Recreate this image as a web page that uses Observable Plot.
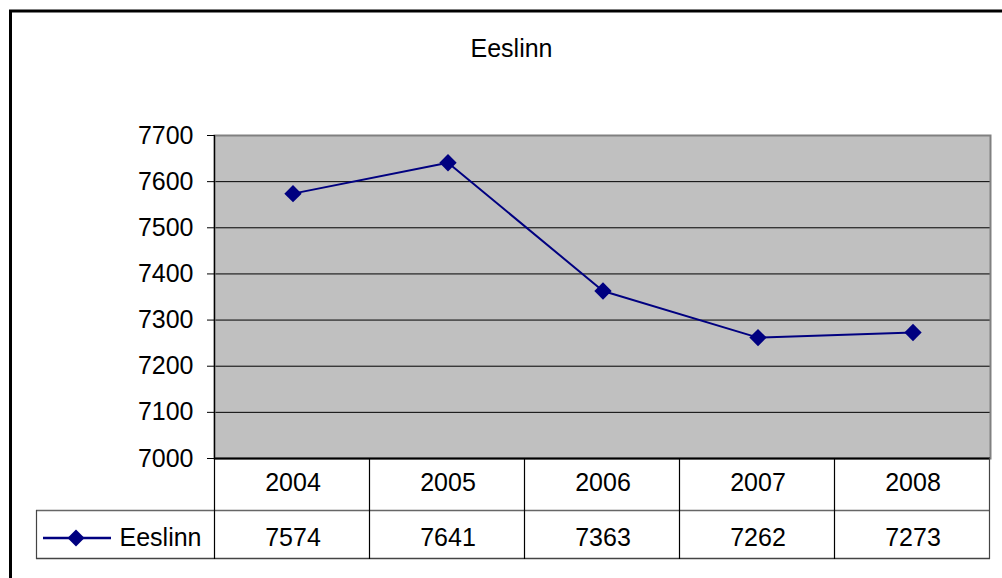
<!DOCTYPE html>
<html>
<head>
<meta charset="utf-8">
<script src="https://cdn.jsdelivr.net/npm/d3@7"></script>
<script src="https://cdn.jsdelivr.net/npm/@observablehq/plot@0.6"></script>
<style>
  html, body { margin: 0; padding: 0; background: white; }
</style>
</head>
<body>
<div id="chart"></div>
<script>
const chartTitle = "Eeslinn";
const seriesName = "Eeslinn";
const years = ["2004", "2005", "2006", "2007", "2008"];
const values = [7574, 7641, 7363, 7262, 7273];
const yTicks = [7000, 7100, 7200, 7300, 7400, 7500, 7600, 7700];

const data = years.map((year, i) => ({year, value: values[i]}));
const lineColor = "#000080";

function outerBorder(index, scales, vals, dims) {
  const g = d3.create("svg:g");
  g.append("rect")
    .attr("x", 10.5).attr("y", 11)
    .attr("width", dims.width + 100).attr("height", dims.height + 100)
    .attr("fill", "white").attr("stroke", "black").attr("stroke-width", 3);
  return g.node();
}

function tableGrid(index, scales, vals, dims) {
  const g = d3.create("svg:g");
  const x = scales.x;
  const step = x(years[1]) - x(years[0]);
  const L = dims.marginLeft, R = dims.width - dims.marginRight;
  const T = dims.height - dims.marginBottom;
  const r1 = T + 52, r2 = T + 100;
  const legL = 36;
  g.append("line").attr("x1", legL).attr("x2", R).attr("y1", r1 + 0.5).attr("y2", r1 + 0.5)
    .attr("stroke", "#666").attr("stroke-width", 1.5);
  g.append("line").attr("x1", legL).attr("x2", R).attr("y1", r2 + 0.5).attr("y2", r2 + 0.5)
    .attr("stroke", "#444").attr("stroke-width", 1.5);
  for (let i = 0; i <= years.length; i++) {
    const xx = Math.round(L + i * step) + 0.5;
    g.append("line").attr("x1", xx).attr("x2", xx)
      .attr("y1", i === 0 ? dims.marginTop : T).attr("y2", r2 + 1)
      .attr("stroke", i === years.length ? "#444" : "black").attr("stroke-width", 1.2);
  }
  g.append("line").attr("x1", legL + 0.5).attr("x2", legL + 0.5).attr("y1", r1).attr("y2", r2 + 1)
    .attr("stroke", "#444").attr("stroke-width", 1.2);
  const ky = r1 + 28;
  g.append("line").attr("x1", 43).attr("x2", 111).attr("y1", ky).attr("y2", ky)
    .attr("stroke", lineColor).attr("stroke-width", 2.5);
  const s = 8.5;
  g.append("path").attr("d", `M76,${ky - s}L${76 + s},${ky}L76,${ky + s}L${76 - s},${ky}Z`)
    .attr("fill", lineColor);
  return g.node();
}

const plot = Plot.plot({
  width: 1002,
  height: 578,
  marginLeft: 214,
  marginRight: 12,
  marginTop: 135,
  marginBottom: 120,
  style: {fontFamily: "'Liberation Sans', Arial, sans-serif", fontSize: "25px", color: "black", background: "white", overflow: "hidden"},
  x: {type: "band", domain: years, padding: 0, axis: null},
  y: {domain: [7000, 7700], axis: null},
  marks: [
    outerBorder,
    Plot.frame({fill: "#c0c0c0", stroke: null}),
    Plot.ruleY(yTicks.slice(1, -1), {stroke: "black", strokeWidth: 1}),
    Plot.frame({stroke: "#808080", strokeWidth: 2}),
    Plot.ruleY([7000], {stroke: "black", strokeWidth: 2}),
    Plot.axisY({ticks: yTicks, tickSize: 7, tickPadding: 14, label: null, tickFormat: d => String(d), fontSize: 25, stroke: "black"}),
    tableGrid,
    Plot.line(data, {x: "year", y: "value", stroke: lineColor, strokeWidth: 2}),
    Plot.dot(data, {x: "year", y: "value", symbol: "diamond2", r: 7.8, fill: lineColor, stroke: null}),
    Plot.text(years, {x: d => d, frameAnchor: "bottom", lineAnchor: "middle", dy: 24, fontSize: 25, fill: "black"}),
    Plot.text(data, {x: "year", text: d => String(d.value), frameAnchor: "bottom", lineAnchor: "middle", dy: 79, fontSize: 25, fill: "black"}),
    Plot.text([seriesName], {frameAnchor: "bottom-left", lineAnchor: "middle", dx: -95, dy: 79, textAnchor: "start", fontSize: 25, fill: "black"}),
    Plot.text([chartTitle], {frameAnchor: "top", lineAnchor: "middle", dx: -91, dy: -87, fontSize: 25, fill: "black"})
  ]
});
document.getElementById("chart").appendChild(plot);
</script>
</body>
</html>
